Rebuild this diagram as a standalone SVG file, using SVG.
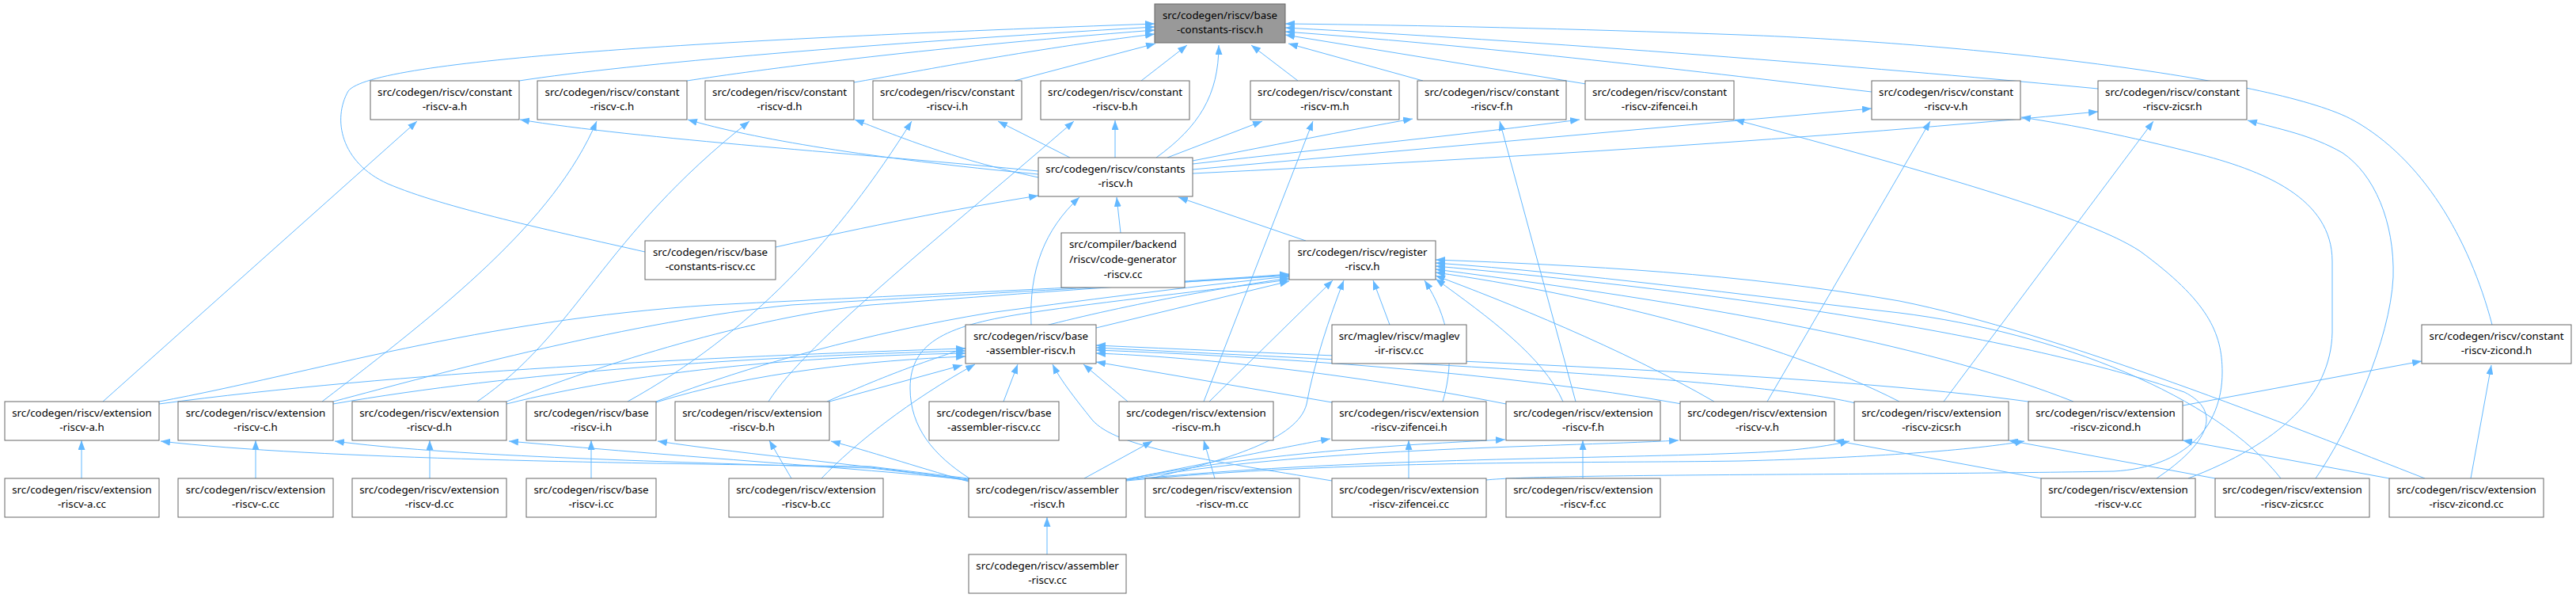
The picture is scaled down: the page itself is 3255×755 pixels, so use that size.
<svg xmlns="http://www.w3.org/2000/svg" width="3255" height="755" viewBox="0 0 3255 755">
<style>
.n{fill:#ffffff;stroke:#666666;stroke-width:1}
.g{fill:#999999;stroke:#666666;stroke-width:1}
.t{font-family:"Noto Sans","DejaVu Sans",sans-serif;font-size:13.33px;text-anchor:middle;fill:#000}
.e{fill:none;stroke:#63b8ff;stroke-width:1;marker-end:url(#ah)}
</style>
<defs>
<marker id="ah" viewBox="0 0 12 9" refX="12" refY="4.5" markerWidth="12" markerHeight="9" orient="auto" markerUnits="userSpaceOnUse">
<path d="M0,0 L12,4.5 L0,9 z" fill="#63b8ff"/>
</marker>
</defs>
<rect width="3255" height="755" fill="#ffffff"/>
<g id="edges">
<!-- into base-constants-riscv.h -->
<path class="e" d="M815,318 C700,292 560,262 490,232 C430,205 420,150 440,115 C470,75 900,50 1459,30"/>
<path class="e" d="M656,102 C800,80 1100,55 1459,34"/>
<path class="e" d="M868,102 C960,88 1150,62 1459,38"/>
<path class="e" d="M1079,104 C1150,92 1300,62 1459,43"/>
<path class="e" d="M1282,102 L1460,55"/>
<path class="e" d="M1442,102 L1500,57"/>
<path class="e" d="M1461,199 C1515,160 1540,120 1540,57"/>
<path class="e" d="M1640,102 L1581,57"/>
<path class="e" d="M1798,102 L1628,55"/>
<path class="e" d="M2004,106 L1624,44"/>
<path class="e" d="M2365,116 C2200,97 1900,60 1624,40"/>
<path class="e" d="M2651,112 C2400,88 2000,55 1624,35"/>
<path class="e" d="M3149,410 C3120,300 3060,200 2974,152 C2880,100 2500,55 2200,44 C1980,36 1800,32 1624,30"/>
<!-- constants-riscv.h to constant headers -->
<path class="e" d="M1312,216 C1100,195 800,175 657,151"/>
<path class="e" d="M1312,220 C1100,200 950,175 869,151"/>
<path class="e" d="M1312,224 C1200,200 1130,170 1080,151"/>
<path class="e" d="M1352,199 L1261,153"/>
<path class="e" d="M1409,199 L1409,152"/>
<path class="e" d="M1475,199 L1595,153"/>
<path class="e" d="M1507,203 C1600,185 1700,165 1785,150"/>
<path class="e" d="M1507,207 C1700,185 1850,170 1996,151"/>
<path class="e" d="M1507,214 L2365,137"/>
<path class="e" d="M1507,219 C1900,200 2300,175 2651,141"/>
<!-- extension headers to constant headers -->
<path class="e" d="M130,507 L527,153"/>
<path class="e" d="M407,507 C560,390 700,280 754,153"/>
<path class="e" d="M603,507 C730,420 760,300 947,153"/>
<path class="e" d="M793,507 C950,420 1060,300 1152,153"/>
<path class="e" d="M971,507 C1020,430 1200,290 1357,153"/>
<path class="e" d="M1521,507 L1659,153"/>
<path class="e" d="M1991,507 L1895,153"/>
<path class="e" d="M2233,507 L2439,153"/>
<path class="e" d="M2456,507 L2721,153"/>
<path class="e" d="M2758,512 L3060,456"/>
<path class="e" d="M3122,604 L3148,461"/>
<path class="e" d="M2765,604 C2880,560 2945,500 2947,420 L2947,330 C2947,250 2860,215 2772,193 C2690,172 2620,158 2554,148"/>
<path class="e" d="M2926,604 C2970,540 3020,430 3024,350 C3026,280 3000,220 2960,193 C2920,170 2880,163 2840,152"/>
<path class="e" d="M1878,606 C1950,598 2400,600 2671,595 C2760,590 2808,540 2808,470 C2808,420 2790,380 2704,317 C2640,275 2450,220 2192,151"/>
<!-- into constants-riscv.h -->
<path class="e" d="M980,312 C1100,285 1200,265 1312,247"/>
<path class="e" d="M1303,410 C1300,340 1320,290 1364,249"/>
<path class="e" d="M1416,294 L1411,249"/>
<path class="e" d="M1650,304 L1489,249"/>
<!-- into register-riscv.h -->
<path class="e" d="M1385,414 L1629,355"/>
<path class="e" d="M1756,410 L1735,354"/>
<path class="e" d="M1528,507 L1684,354"/>
<path class="e" d="M1455,604 C1550,580 1640,555 1651,510 C1660,460 1680,400 1698,354"/>
<path class="e" d="M1225,604 C1180,575 1150,540 1150,490 C1150,430 1200,410 1300,395 C1400,380 1520,368 1629,353"/>
<path class="e" d="M201,507 C400,470 600,405 900,385 C1200,370 1450,360 1629,346"/>
<path class="e" d="M421,507 C560,470 800,405 1000,385 C1250,370 1450,360 1629,347"/>
<path class="e" d="M640,507 C760,460 950,400 1100,385 C1300,370 1500,355 1629,348"/>
<path class="e" d="M829,507 C950,460 1100,420 1250,395 C1400,375 1520,360 1629,349"/>
<path class="e" d="M1045,507 C1150,460 1300,400 1629,351"/>
<path class="e" d="M1823,507 C1840,450 1830,400 1800,354"/>
<path class="e" d="M1975,507 C1950,450 1880,400 1814,352"/>
<path class="e" d="M2166,507 C2050,440 1900,380 1814,348"/>
<path class="e" d="M2400,507 C2250,430 2000,370 1814,344"/>
<path class="e" d="M2620,507 C2450,440 2200,390 1814,340"/>
<path class="e" d="M2725,604 C2790,560 2810,520 2760,495 C2600,440 2300,380 1814,336"/>
<path class="e" d="M2882,604 C2800,500 2600,420 2400,395 C2200,372 2000,345 1814,332"/>
<path class="e" d="M3064,604 C2900,540 2600,420 2400,380 C2200,345 2000,335 1814,328"/>
<!-- into base-assembler-riscv.h -->
<path class="e" d="M201,510 C500,470 900,450 1220,440"/>
<path class="e" d="M421,510 C650,470 950,450 1220,443"/>
<path class="e" d="M640,510 C800,470 1000,450 1220,446"/>
<path class="e" d="M829,508 C950,470 1100,455 1220,450"/>
<path class="e" d="M1048,507 L1216,461"/>
<path class="e" d="M1038,604 C1080,560 1150,505 1232,460"/>
<path class="e" d="M1268,507 L1286,460"/>
<path class="e" d="M1683,607 C1520,580 1410,565 1380,530 C1360,505 1340,480 1330,460"/>
<path class="e" d="M1425,507 L1369,460"/>
<path class="e" d="M1683,508 L1385,457"/>
<path class="e" d="M1903,510 C1700,470 1500,450 1385,446"/>
<path class="e" d="M2125,510 C1900,470 1600,450 1385,442"/>
<path class="e" d="M2345,509 C2200,475 1700,455 1385,439"/>
<path class="e" d="M2570,508 C2300,470 1800,455 1385,436"/>
<!-- assembler-riscv.h to extension headers -->
<path class="e" d="M1224,604 L1100,589 C800,585 400,580 203,557"/>
<path class="e" d="M1224,605 L1100,591 C800,582 560,575 423,557"/>
<path class="e" d="M1224,606 C1100,592 900,580 643,557"/>
<path class="e" d="M1224,607 C1100,587 950,575 831,557"/>
<path class="e" d="M1224,608 C1150,587 1100,570 1050,557"/>
<path class="e" d="M1370,604 L1456,557"/>
<path class="e" d="M1423,605 C1550,580 1620,565 1681,554"/>
<path class="e" d="M1423,605 C1600,570 1800,560 1902,555"/>
<path class="e" d="M1423,606 C1650,565 1950,565 2121,556"/>
<path class="e" d="M1423,606 C1700,578 2000,580 2200,572 C2260,570 2300,565 2337,557"/>
<path class="e" d="M1423,607 C1700,580 2000,585 2200,582 C2350,578 2480,570 2558,557"/>
<!-- cc files to headers -->
<path class="e" d="M103,604 L103,556"/>
<path class="e" d="M323,604 L323,556"/>
<path class="e" d="M543,604 L543,556"/>
<path class="e" d="M747,604 L747,556"/>
<path class="e" d="M1000,604 L972,556"/>
<path class="e" d="M1535,604 L1521,556"/>
<path class="e" d="M1780,604 L1780,556"/>
<path class="e" d="M2000,604 L2000,556"/>
<path class="e" d="M2579,604 L2318,556"/>
<path class="e" d="M2799,604 L2538,556"/>
<path class="e" d="M3019,604 L2758,556"/>
<path class="e" d="M1323,700 L1323,653"/>
</g>
<g id="n0"><rect class="g" x="1459" y="5" width="165" height="49"/><text class="t" x="1541.5" y="24">src/codegen/riscv/base</text><text class="t" x="1541.5" y="42">-constants-riscv.h</text></g>
<g id="a1"><rect class="n" x="468" y="102" width="188" height="49"/><text class="t" x="562" y="121">src/codegen/riscv/constant</text><text class="t" x="562" y="139">-riscv-a.h</text></g>
<g id="c1"><rect class="n" x="679" y="102" width="189" height="49"/><text class="t" x="773.5" y="121">src/codegen/riscv/constant</text><text class="t" x="773.5" y="139">-riscv-c.h</text></g>
<g id="d1"><rect class="n" x="891" y="102" width="188" height="49"/><text class="t" x="985" y="121">src/codegen/riscv/constant</text><text class="t" x="985" y="139">-riscv-d.h</text></g>
<g id="i1"><rect class="n" x="1103" y="102" width="188" height="49"/><text class="t" x="1197" y="121">src/codegen/riscv/constant</text><text class="t" x="1197" y="139">-riscv-i.h</text></g>
<g id="b1"><rect class="n" x="1315" y="102" width="188" height="49"/><text class="t" x="1409" y="121">src/codegen/riscv/constant</text><text class="t" x="1409" y="139">-riscv-b.h</text></g>
<g id="m1"><rect class="n" x="1580" y="102" width="188" height="49"/><text class="t" x="1674" y="121">src/codegen/riscv/constant</text><text class="t" x="1674" y="139">-riscv-m.h</text></g>
<g id="f1"><rect class="n" x="1791" y="102" width="188" height="49"/><text class="t" x="1885" y="121">src/codegen/riscv/constant</text><text class="t" x="1885" y="139">-riscv-f.h</text></g>
<g id="z1"><rect class="n" x="2003" y="102" width="188" height="49"/><text class="t" x="2097" y="121">src/codegen/riscv/constant</text><text class="t" x="2097" y="139">-riscv-zifencei.h</text></g>
<g id="v1"><rect class="n" x="2365" y="102" width="188" height="49"/><text class="t" x="2459" y="121">src/codegen/riscv/constant</text><text class="t" x="2459" y="139">-riscv-v.h</text></g>
<g id="s1"><rect class="n" x="2651" y="102" width="188" height="49"/><text class="t" x="2745" y="121">src/codegen/riscv/constant</text><text class="t" x="2745" y="139">-riscv-zicsr.h</text></g>
<g id="cr"><rect class="n" x="1312" y="199" width="195" height="49"/><text class="t" x="1409.5" y="218">src/codegen/riscv/constants</text><text class="t" x="1409.5" y="236">-riscv.h</text></g>
<g id="bcc"><rect class="n" x="815" y="304" width="165" height="49"/><text class="t" x="897.5" y="323">src/codegen/riscv/base</text><text class="t" x="897.5" y="341">-constants-riscv.cc</text></g>
<g id="cg"><rect class="n" x="1341" y="294" width="156" height="69"/><text class="t" x="1419" y="313">src/compiler/backend</text><text class="t" x="1419" y="332">/riscv/code-generator</text><text class="t" x="1419" y="351">-riscv.cc</text></g>
<g id="reg"><rect class="n" x="1629" y="304" width="185" height="49"/><text class="t" x="1721.5" y="323">src/codegen/riscv/register</text><text class="t" x="1721.5" y="341">-riscv.h</text></g>
<g id="bah"><rect class="n" x="1220" y="410" width="165" height="49"/><text class="t" x="1302.5" y="429">src/codegen/riscv/base</text><text class="t" x="1302.5" y="447">-assembler-riscv.h</text></g>
<g id="mag"><rect class="n" x="1683" y="410" width="170" height="49"/><text class="t" x="1768" y="429">src/maglev/riscv/maglev</text><text class="t" x="1768" y="447">-ir-riscv.cc</text></g>
<g id="zc1"><rect class="n" x="3060" y="410" width="189" height="49"/><text class="t" x="3154.5" y="429">src/codegen/riscv/constant</text><text class="t" x="3154.5" y="447">-riscv-zicond.h</text></g>
<g id="ea"><rect class="n" x="6" y="507" width="195" height="49"/><text class="t" x="103.5" y="526">src/codegen/riscv/extension</text><text class="t" x="103.5" y="544">-riscv-a.h</text></g>
<g id="ec"><rect class="n" x="225" y="507" width="196" height="49"/><text class="t" x="323" y="526">src/codegen/riscv/extension</text><text class="t" x="323" y="544">-riscv-c.h</text></g>
<g id="ed"><rect class="n" x="445" y="507" width="195" height="49"/><text class="t" x="542.5" y="526">src/codegen/riscv/extension</text><text class="t" x="542.5" y="544">-riscv-d.h</text></g>
<g id="bi"><rect class="n" x="665" y="507" width="164" height="49"/><text class="t" x="747" y="526">src/codegen/riscv/base</text><text class="t" x="747" y="544">-riscv-i.h</text></g>
<g id="eb"><rect class="n" x="853" y="507" width="195" height="49"/><text class="t" x="950.5" y="526">src/codegen/riscv/extension</text><text class="t" x="950.5" y="544">-riscv-b.h</text></g>
<g id="bacc"><rect class="n" x="1174" y="507" width="164" height="49"/><text class="t" x="1256" y="526">src/codegen/riscv/base</text><text class="t" x="1256" y="544">-assembler-riscv.cc</text></g>
<g id="em"><rect class="n" x="1414" y="507" width="195" height="49"/><text class="t" x="1511.5" y="526">src/codegen/riscv/extension</text><text class="t" x="1511.5" y="544">-riscv-m.h</text></g>
<g id="ezf"><rect class="n" x="1683" y="507" width="195" height="49"/><text class="t" x="1780.5" y="526">src/codegen/riscv/extension</text><text class="t" x="1780.5" y="544">-riscv-zifencei.h</text></g>
<g id="ef"><rect class="n" x="1903" y="507" width="195" height="49"/><text class="t" x="2000.5" y="526">src/codegen/riscv/extension</text><text class="t" x="2000.5" y="544">-riscv-f.h</text></g>
<g id="ev"><rect class="n" x="2123" y="507" width="195" height="49"/><text class="t" x="2220.5" y="526">src/codegen/riscv/extension</text><text class="t" x="2220.5" y="544">-riscv-v.h</text></g>
<g id="es"><rect class="n" x="2343" y="507" width="195" height="49"/><text class="t" x="2440.5" y="526">src/codegen/riscv/extension</text><text class="t" x="2440.5" y="544">-riscv-zicsr.h</text></g>
<g id="ezc"><rect class="n" x="2563" y="507" width="195" height="49"/><text class="t" x="2660.5" y="526">src/codegen/riscv/extension</text><text class="t" x="2660.5" y="544">-riscv-zicond.h</text></g>
<g id="eacc"><rect class="n" x="6" y="604" width="195" height="49"/><text class="t" x="103.5" y="623">src/codegen/riscv/extension</text><text class="t" x="103.5" y="641">-riscv-a.cc</text></g>
<g id="eccc"><rect class="n" x="225" y="604" width="196" height="49"/><text class="t" x="323" y="623">src/codegen/riscv/extension</text><text class="t" x="323" y="641">-riscv-c.cc</text></g>
<g id="edcc"><rect class="n" x="445" y="604" width="195" height="49"/><text class="t" x="542.5" y="623">src/codegen/riscv/extension</text><text class="t" x="542.5" y="641">-riscv-d.cc</text></g>
<g id="bicc"><rect class="n" x="665" y="604" width="164" height="49"/><text class="t" x="747" y="623">src/codegen/riscv/base</text><text class="t" x="747" y="641">-riscv-i.cc</text></g>
<g id="ebcc"><rect class="n" x="921" y="604" width="195" height="49"/><text class="t" x="1018.5" y="623">src/codegen/riscv/extension</text><text class="t" x="1018.5" y="641">-riscv-b.cc</text></g>
<g id="asm"><rect class="n" x="1224" y="604" width="199" height="49"/><text class="t" x="1323.5" y="623">src/codegen/riscv/assembler</text><text class="t" x="1323.5" y="641">-riscv.h</text></g>
<g id="emcc"><rect class="n" x="1447" y="604" width="195" height="49"/><text class="t" x="1544.5" y="623">src/codegen/riscv/extension</text><text class="t" x="1544.5" y="641">-riscv-m.cc</text></g>
<g id="ezfcc"><rect class="n" x="1683" y="604" width="195" height="49"/><text class="t" x="1780.5" y="623">src/codegen/riscv/extension</text><text class="t" x="1780.5" y="641">-riscv-zifencei.cc</text></g>
<g id="efcc"><rect class="n" x="1903" y="604" width="195" height="49"/><text class="t" x="2000.5" y="623">src/codegen/riscv/extension</text><text class="t" x="2000.5" y="641">-riscv-f.cc</text></g>
<g id="evcc"><rect class="n" x="2579" y="604" width="195" height="49"/><text class="t" x="2676.5" y="623">src/codegen/riscv/extension</text><text class="t" x="2676.5" y="641">-riscv-v.cc</text></g>
<g id="escc"><rect class="n" x="2799" y="604" width="195" height="49"/><text class="t" x="2896.5" y="623">src/codegen/riscv/extension</text><text class="t" x="2896.5" y="641">-riscv-zicsr.cc</text></g>
<g id="ezccc"><rect class="n" x="3019" y="604" width="195" height="49"/><text class="t" x="3116.5" y="623">src/codegen/riscv/extension</text><text class="t" x="3116.5" y="641">-riscv-zicond.cc</text></g>
<g id="asmcc"><rect class="n" x="1224" y="700" width="199" height="49"/><text class="t" x="1323.5" y="719">src/codegen/riscv/assembler</text><text class="t" x="1323.5" y="737">-riscv.cc</text></g>
</svg>
